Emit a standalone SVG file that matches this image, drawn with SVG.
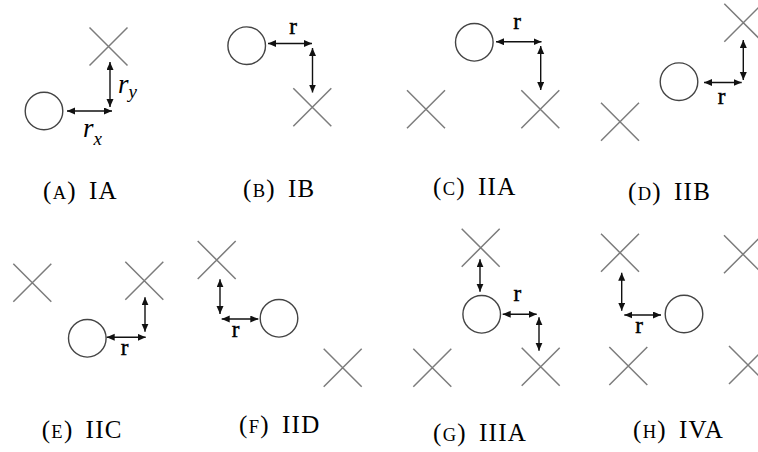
<svg xmlns="http://www.w3.org/2000/svg" width="758" height="452" viewBox="0 0 758 452">
<style>
.x{stroke:#7c7c7c;stroke-width:1.5;fill:none}
.c{stroke:#444;stroke-width:1.4;fill:none}
.a{stroke:#111;stroke-width:1.4;fill:none;marker-start:url(#ah);marker-end:url(#ah)}
.r{stroke:#000;stroke-width:0.45}
</style>
<defs>
<marker id="ah" markerUnits="userSpaceOnUse" markerWidth="9" markerHeight="8" refX="8" refY="3.5" orient="auto-start-reverse">
<path d="M0,0 L8,3.5 L0,7 z" fill="#111"/>
</marker>
<path id="xm" d="M-19,-19 L19,19 M19,-19 L-19,19"/>
</defs>

<g font-family="Liberation Serif, DejaVu Serif, serif" fill="#000">
<!-- Panel A -->
<g id="panelA">
<g id="A-x1"><use href="#xm" class="x" transform="translate(108.5,46.5)"/></g>
<g id="A-c"><circle class="c" cx="44" cy="111" r="18.8"/></g>
<g id="A-connectors">
<line class="a" x1="110" y1="62" x2="110" y2="107"/>
<line class="a" x1="67" y1="111" x2="112" y2="111"/>
</g>
<text x="118" y="93" font-size="27" font-style="italic">r<tspan font-size="19" dy="5">y</tspan></text>
<text x="83" y="137" font-size="27" font-style="italic">r<tspan font-size="19" dy="8">x</tspan></text>
<text x="43" y="199" font-size="25" letter-spacing="1.3">(<tspan font-size="18.5">A</tspan>)<tspan dx="12">IA</tspan></text>
</g>

<!-- Panel B -->
<g id="panelB">
<g id="B-c"><circle class="c" cx="246.7" cy="45.7" r="18.8"/></g>
<g id="B-x1"><use href="#xm" class="x" transform="translate(312.3,107.3)"/></g>
<g id="B-connectors">
<line class="a" x1="268" y1="43.5" x2="312" y2="43.5"/>
<line class="a" x1="312.5" y1="48" x2="312.5" y2="92.5"/>
</g>
<text class="r" x="293" y="34" font-size="23" text-anchor="middle">r</text>
<text x="243" y="197" font-size="25" letter-spacing="1.3">(<tspan font-size="18.5">B</tspan>)<tspan dx="12">IB</tspan></text>
</g>

<!-- Panel C -->
<g id="panelC">
<g id="C-c"><circle class="c" cx="474.3" cy="42.3" r="18.8"/></g>
<g id="C-x1"><use href="#xm" class="x" transform="translate(426,109.3)"/></g>
<g id="C-x2"><use href="#xm" class="x" transform="translate(540.3,109.3)"/></g>
<g id="C-connectors">
<line class="a" x1="496" y1="41.7" x2="541.5" y2="41.7"/>
<line class="a" x1="540.7" y1="46" x2="540.7" y2="90"/>
</g>
<text class="r" x="517" y="29" font-size="23" text-anchor="middle">r</text>
<text x="433" y="195" font-size="25" letter-spacing="1.3">(<tspan font-size="18.5">C</tspan>)<tspan dx="12">IIA</tspan></text>
</g>

<!-- Panel D -->
<g id="panelD">
<g id="D-x1"><use href="#xm" class="x" transform="translate(743.3,22.7)"/></g>
<g id="D-x2"><use href="#xm" class="x" transform="translate(620,121.7)"/></g>
<g id="D-c"><circle class="c" cx="679" cy="81.7" r="18.8"/></g>
<g id="D-connectors">
<line class="a" x1="743.3" y1="40" x2="743.3" y2="80"/>
<line class="a" x1="704" y1="82.5" x2="741.7" y2="82.5"/>
</g>
<text class="r" x="721.7" y="104" font-size="23" text-anchor="middle">r</text>
<text x="628" y="200" font-size="25" letter-spacing="1.3">(<tspan font-size="18.5">D</tspan>)<tspan dx="12">IIB</tspan></text>
</g>

<!-- Panel E -->
<g id="panelE">
<g id="E-x1"><use href="#xm" class="x" transform="translate(32.3,282.7)"/></g>
<g id="E-x2"><use href="#xm" class="x" transform="translate(144.3,280.7)"/></g>
<g id="E-c"><circle class="c" cx="87.3" cy="338.3" r="18.8"/></g>
<g id="E-connectors">
<line class="a" x1="145" y1="297.3" x2="145" y2="331.7"/>
<line class="a" x1="106.7" y1="337.3" x2="145.7" y2="337.3"/>
</g>
<text class="r" x="124.7" y="355" font-size="23" text-anchor="middle">r</text>
<text x="41.7" y="438" font-size="25" letter-spacing="1.3">(<tspan font-size="18.5">E</tspan>)<tspan dx="12">IIC</tspan></text>
</g>

<!-- Panel F -->
<g id="panelF">
<g id="F-x1"><use href="#xm" class="x" transform="translate(216.7,260)"/></g>
<g id="F-c"><circle class="c" cx="279" cy="318.3" r="18.8"/></g>
<g id="F-x2"><use href="#xm" class="x" transform="translate(342.7,367.7)"/></g>
<g id="F-connectors">
<line class="a" x1="220" y1="279.3" x2="220" y2="314"/>
<line class="a" x1="221.7" y1="319" x2="258.3" y2="319"/>
</g>
<text class="r" x="235.7" y="337" font-size="23" text-anchor="middle">r</text>
<text x="239" y="433" font-size="25" letter-spacing="1.3">(<tspan font-size="18.5">F</tspan>)<tspan dx="12">IID</tspan></text>
</g>

<!-- Panel G -->
<g id="panelG">
<g id="G-x1"><use href="#xm" class="x" transform="translate(480.7,247.7)"/></g>
<g id="G-c"><circle class="c" cx="481.7" cy="314.3" r="18.8"/></g>
<g id="G-x2"><use href="#xm" class="x" transform="translate(432.3,367.7)"/></g>
<g id="G-x3"><use href="#xm" class="x" transform="translate(540.7,366.7)"/></g>
<g id="G-connectors">
<line class="a" x1="480" y1="259.3" x2="480" y2="291.7"/>
<line class="a" x1="502.7" y1="314.3" x2="536.7" y2="314.3"/>
<line class="a" x1="539" y1="317.3" x2="539" y2="350.7"/>
</g>
<text class="r" x="517.3" y="300.5" font-size="23" text-anchor="middle">r</text>
<text x="433" y="441" font-size="25" letter-spacing="1.3">(<tspan font-size="18.5">G</tspan>)<tspan dx="12">IIIA</tspan></text>
</g>

<!-- Panel H -->
<g id="panelH">
<g id="H-x1"><use href="#xm" class="x" transform="translate(620,252.7)"/></g>
<g id="H-x2"><use href="#xm" class="x" transform="translate(743,254.3)"/></g>
<g id="H-c"><circle class="c" cx="684" cy="314" r="18.8"/></g>
<g id="H-x3"><use href="#xm" class="x" transform="translate(628.3,366)"/></g>
<g id="H-x4"><use href="#xm" class="x" transform="translate(748,365)"/></g>
<g id="H-connectors">
<line class="a" x1="621.7" y1="272.7" x2="621.7" y2="310.7"/>
<line class="a" x1="624.3" y1="315" x2="661" y2="315"/>
</g>
<text class="r" x="639" y="332.5" font-size="23" text-anchor="middle">r</text>
<text x="633" y="438" font-size="25" letter-spacing="1.3">(<tspan font-size="18.5">H</tspan>)<tspan dx="12">IVA</tspan></text>
</g>
</g>
</svg>
